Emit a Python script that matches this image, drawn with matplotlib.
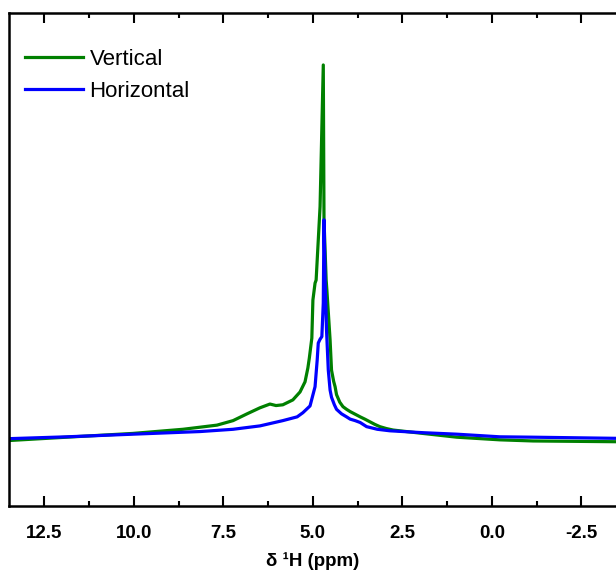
import matplotlib
matplotlib.use("Agg")
import matplotlib.pyplot as plt
from matplotlib.ticker import MultipleLocator

plt.rcParams["font.family"] = ["Liberation Sans", "DejaVu Sans"]
plt.rcParams["axes.unicode_minus"] = False

# 1H NMR, chemical shift (ppm) vs intensity (a.u., peak of Vertical = 1)
vert_ppm = [13.52, 11.88, 10.03, 8.63, 7.68, 7.23, 6.84, 6.48, 6.20, 6.03, 5.84,
            5.56, 5.36, 5.22, 5.14, 5.10, 5.03, 5.00, 4.94, 4.91, 4.80, 4.71,
            4.69, 4.63, 4.61, 4.52, 4.48, 4.42, 4.38, 4.34, 4.25, 4.16, 4.06, 3.96,
            3.82, 3.68, 3.55, 3.41, 3.27, 3.13, 2.95, 2.76, 1.93, 0.98, -0.22, -1.15, -3.47]
vert_int = [0.003, 0.012, 0.022, 0.033, 0.044, 0.056, 0.074, 0.090, 0.100, 0.096, 0.098,
            0.111, 0.132, 0.159, 0.196, 0.222, 0.275, 0.376, 0.421, 0.429, 0.624, 1.000,
            0.589, 0.429, 0.403, 0.270, 0.190, 0.160, 0.146, 0.125, 0.105, 0.093, 0.086, 0.080,
            0.073, 0.066, 0.060, 0.053, 0.046, 0.040, 0.035, 0.031, 0.022, 0.012, 0.005, 0.002, 0.000]

horiz_ppm = [13.52, 11.88, 10.03, 8.15, 7.23, 6.48, 5.84, 5.44, 5.28, 5.08, 4.94,
             4.88, 4.85, 4.80, 4.75, 4.71, 4.69, 4.66, 4.62, 4.57, 4.52, 4.48, 4.40, 4.34,
             4.20, 4.06, 3.96, 3.82, 3.68, 3.50, 3.20, 2.85, 1.93, 0.98, -0.22, -1.15, -3.47]
horiz_int = [0.008, 0.013, 0.020, 0.027, 0.033, 0.042, 0.056, 0.066, 0.077, 0.095, 0.146,
             0.217, 0.262, 0.272, 0.279, 0.368, 0.589, 0.429, 0.297, 0.190, 0.137, 0.118, 0.098, 0.086,
             0.074, 0.066, 0.060, 0.056, 0.051, 0.040, 0.033, 0.029, 0.024, 0.020, 0.013, 0.012, 0.009]

fig = plt.figure(figsize=(6.16, 5.77), dpi=100)
ax = fig.add_axes([0.01396, 0.123, 0.988, 0.8545])

ax.plot(vert_ppm, vert_int, color="#008000", lw=2.3, label="Vertical")
ax.plot(horiz_ppm, horiz_int, color="#0000ff", lw=2.3, label="Horizontal")

ax.set_xlim(13.5, -3.5)
ax.set_ylim(-0.1707, 1.138)

ax.xaxis.set_major_locator(MultipleLocator(2.5))
ax.xaxis.set_minor_locator(MultipleLocator(1.25))
ax.tick_params(axis="x", which="both", direction="in", top=True, bottom=True,
               width=1.5, labelsize=13.5)
ax.tick_params(axis="x", which="major", length=7.5, pad=14)
ax.tick_params(axis="x", which="minor", length=3.5)
ax.set_yticks([])
for lab in ax.get_xticklabels():
    lab.set_fontweight("bold")

for side in ("left", "top", "bottom"):
    ax.spines[side].set_linewidth(1.8)
ax.spines["right"].set_visible(False)

ax.set_xlabel("δ ¹H (ppm)", fontsize=13.5, fontweight="bold", labelpad=7)

ax.legend(loc="upper left", frameon=False, fontsize=16, handlelength=2.6,
          handletextpad=0.3, labelspacing=0.5, borderaxespad=0.34,
          bbox_to_anchor=(0.0, 0.96))

fig.savefig("out.png", dpi=100)
